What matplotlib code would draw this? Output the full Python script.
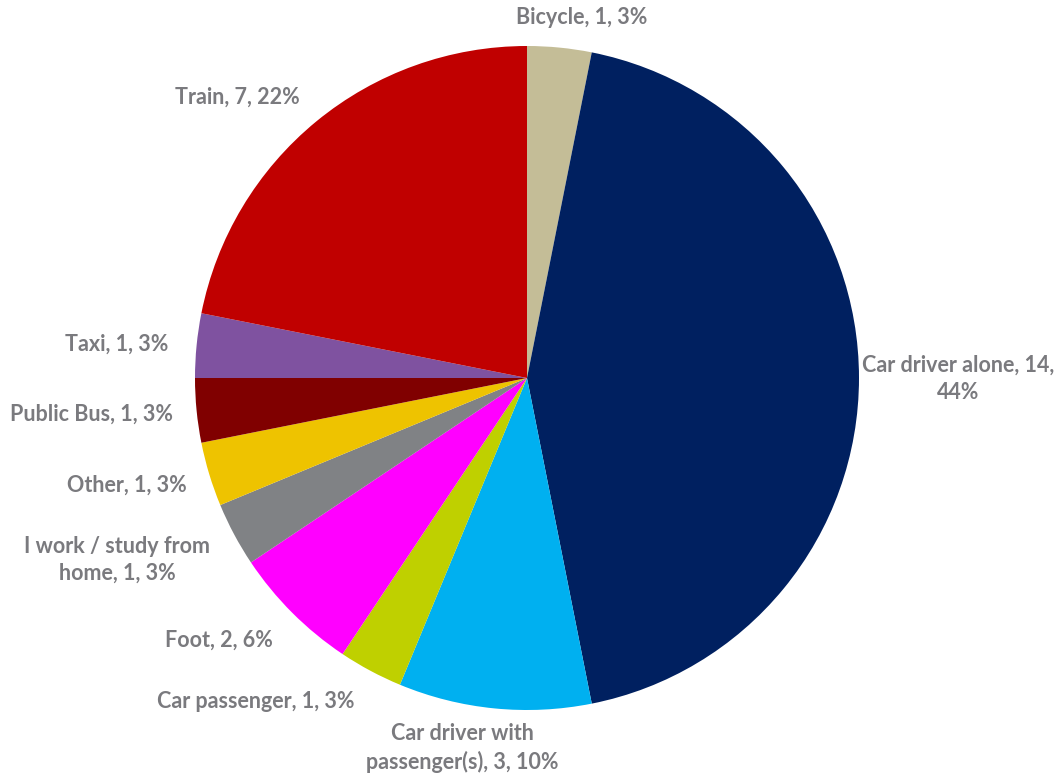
import matplotlib
matplotlib.use("Agg")
import matplotlib.pyplot as plt

# Commute modes (alphabetical, drawn clockwise from 12 o'clock)
categories = ["Bicycle", "Car driver alone", "Car driver with\npassenger(s)",
              "Car passenger", "Foot", "I work / study from\nhome", "Other",
              "Public Bus", "Taxi", "Train"]
counts = [1, 14, 3, 1, 2, 1, 1, 1, 1, 7]
percent_labels = ["3%", "44%", "10%", "3%", "6%", "3%", "3%", "3%", "3%", "22%"]

colors = ["#C4BD97", "#002060", "#00B0F0", "#BFD000", "#FF00FF",
          "#808285", "#EEC300", "#800000", "#7F52A0", "#C00000"]

# Label anchor points in figure pixels (x from left, y from top)
label_pos = [(582, 18), (958, 379), (462, 748), (256, 701), (219, 640),
             (117, 560), (127, 485), (92, 414), (117, 344), (237, 97)]
label_text = [
    "Car driver alone, 14,\n44%" if c == "Car driver alone" else
    f"{c}, {n}, {p}" for c, n, p in zip(categories, counts, percent_labels)
]

W, H = 1058, 775
fig = plt.figure(figsize=(W / 100, H / 100), dpi=100)
cx, cy, r = 527, 378, 332
ax = fig.add_axes([(cx - r) / W, (H - cy - r) / H, 2 * r / W, 2 * r / H])
ax.pie(counts, colors=colors, startangle=90, counterclock=False,
       radius=1.0, wedgeprops=dict(linewidth=0))
ax.set_xlim(-1, 1)
ax.set_ylim(-1, 1)
ax.set_aspect("equal")
ax.axis("off")

for txt, (x, y) in zip(label_text, label_pos):
    fig.text(x / W, 1 - y / H, txt, ha="center", va="center",
             multialignment="center", color="#7A7A7E", fontsize=15.5,
             fontweight="bold", family="Lato", linespacing=1.35)

fig.savefig("out.png", dpi=100, facecolor="white")
